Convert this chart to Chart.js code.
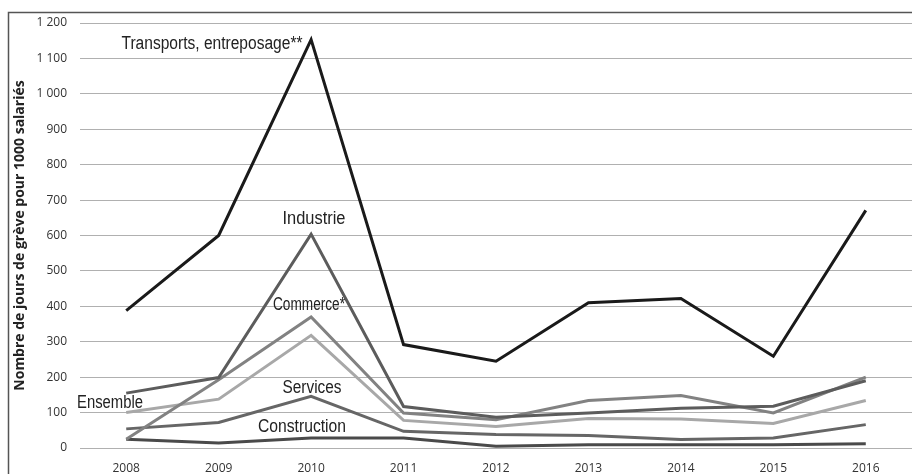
<!DOCTYPE html>
<html lang="fr">
<head>
<meta charset="utf-8">
<script src="https://cdn.jsdelivr.net/npm/chart.js@4.4.1/dist/chart.umd.min.js"></script>
<style>
  html, body { margin: 0; padding: 0; background: #fff; }
  #wrap { width: 912px; height: 474px; position: relative; }
</style>
</head>
<body>
<div id="wrap"><canvas id="chart"></canvas></div>
<script>
// --- data ---
const years = ["2008", "2009", "2010", "2011", "2012", "2013", "2014", "2015", "2016"];
const transports = [388, 600, 1153, 292, 245, 410, 422, 259, 671];
const industrie = [155, 199, 604, 117, 87, 99, 112, 118, 190];
const commerce = [25, 193, 370, 99, 80, 134, 148, 99, 200];
const ensemble = [100, 138, 318, 78, 61, 83, 82, 69, 134];
const services = [54, 72, 146, 47, 38, 35, 24, 28, 66];
const construction = [25, 14, 28, 28, 5, 9, 9, 9, 12];
const yTicks = [0, 100, 200, 300, 400, 500, 600, 700, 800, 900, 1000, 1100, 1200];

const seriesNames = ["Transports, entreposage**", "Industrie", "Commerce*", "Ensemble", "Services", "Construction"];

// label placement (pixels) and target widths, styling only
const labelSpots = [
  { x: 212, y: 44, w: 181 },
  { x: 314, y: 219, w: 63 },
  { x: 309, y: 305, w: 72 },
  { x: 110, y: 403, w: 66 },
  { x: 312, y: 388, w: 59 },
  { x: 302, y: 427, w: 88 }
];

function fmt(v) {
  return v >= 1000 ? String(v).replace(/(\d)(\d{3})$/, "$1 $2") : String(v);
}

const frame = {
  id: "frame",
  beforeDraw(chart) {
    const ctx = chart.ctx;
    ctx.save();
    ctx.strokeStyle = "#555";
    ctx.lineWidth = 1.5;
    ctx.beginPath();
    ctx.moveTo(8.5, 474);
    ctx.lineTo(8.5, 12.5);
    ctx.lineTo(912, 12.5);
    ctx.stroke();
    ctx.restore();
  }
};

const seriesLabels = {
  id: "seriesLabels",
  afterDatasetsDraw(chart) {
    const ctx = chart.ctx;
    ctx.save();
    ctx.fillStyle = "#222";
    ctx.textAlign = "center";
    ctx.textBaseline = "middle";
    ctx.font = '18px "Liberation Sans Narrow", "Liberation Sans", sans-serif';
    seriesNames.forEach((name, i) => {
      const s = labelSpots[i];
      const natural = ctx.measureText(name).width;
      const sx = s.w / natural;
      ctx.save();
      ctx.translate(s.x, s.y);
      ctx.scale(sx, 1);
      ctx.fillText(name, 0, 0);
      ctx.restore();
    });
    ctx.restore();
  }
};

function line(label, data, color) {
  return {
    label: label,
    data: data,
    borderColor: color,
    borderWidth: 3,
    pointRadius: 0,
    tension: 0,
    fill: false,
    borderJoinStyle: "miter",
    borderCapStyle: "butt"
  };
}

new Chart(document.getElementById("chart"), {
  type: "line",
  data: {
    labels: years,
    datasets: [
      line(seriesNames[0], transports, "#1a1a1a"),
      line(seriesNames[1], industrie, "#5c5c5c"),
      line(seriesNames[2], commerce, "#828282"),
      line(seriesNames[3], ensemble, "#a8a8a8"),
      line(seriesNames[4], services, "#666666"),
      line(seriesNames[5], construction, "#4a4a4a")
    ]
  },
  options: {
    responsive: true,
    maintainAspectRatio: false,
    animation: false,
    layout: { padding: { top: 23, right: 0, left: 0, bottom: 0 } },
    plugins: {
      legend: { display: false },
      tooltip: { enabled: false }
    },
    scales: {
      x: {
        offset: true,
        grid: { display: false },
        border: { display: false },
        ticks: {
          color: "#333",
          padding: 5,
          maxRotation: 0,
          font: { family: "Open Sans", size: 12 }
        },
        afterFit: (scale) => { scale.height = 26; }
      },
      y: {
        min: 0,
        max: 1200,
        border: { display: false },
        grid: { color: "#b0b0b0", lineWidth: 1, drawTicks: false },
        afterBuildTicks: (scale) => { scale.ticks = yTicks.map(v => ({ value: v })); },
        afterFit: (scale) => { scale.width = 80; },
        ticks: {
          color: "#333",
          padding: 13,
          font: { family: "Open Sans", size: 12 },
          callback: (v) => fmt(v)
        },
        title: {
          display: true,
          text: "Nombre de jours de grève pour 1000 salariés",
          color: "#222",
          padding: { top: 12, bottom: 0 },
          font: { family: "Open Sans", size: 14, weight: "bold" }
        }
      }
    }
  },
  plugins: [frame, seriesLabels]
});
</script>
</body>
</html>
